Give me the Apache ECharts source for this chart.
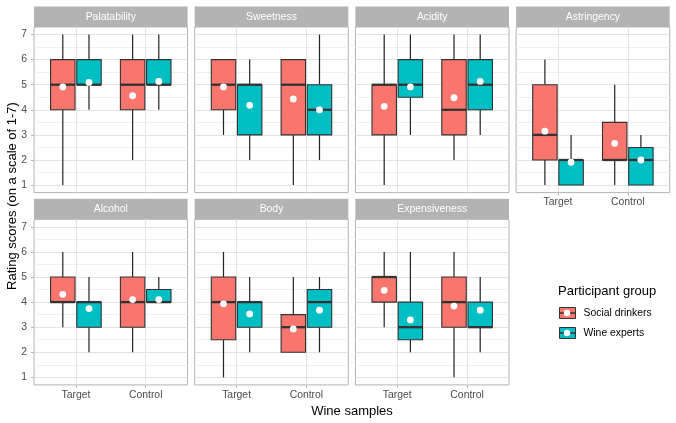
<!DOCTYPE html>
<html><head><meta charset="utf-8">
<script src="https://cdn.jsdelivr.net/npm/echarts@6/dist/echarts.min.js"></script>
<style>html,body{margin:0;padding:0;background:#fff}#c{width:676px;height:423px}</style>
</head><body><div id="c"></div>
<script>
const categories = ['Target', 'Control'];
const attributes = ['Palatability', 'Sweetness', 'Acidity', 'Astringency', 'Alcohol', 'Body', 'Expensiveness'];
const groups = ['Social drinkers', 'Wine experts'];
const yTicks = [1, 2, 3, 4, 5, 6, 7];
const yMinorTicks = [1.5, 2.5, 3.5, 4.5, 5.5, 6.5];
// [min, Q1, median, Q3, max] per attribute: [Target, Control]
const socialBoxes = [
  [[1, 4, 5, 6, 7], [2, 4, 5, 6, 7]],
  [[3, 4, 5, 6, 6], [1, 3, 5, 6, 6]],
  [[1, 3, 5, 5, 7], [2, 3, 4, 6, 7]],
  [[1, 2, 3, 5, 6], [1, 2, 2, 3.5, 5]],
  [[3, 4, 4, 5, 6], [2, 3, 4, 5, 6]],
  [[1, 2.5, 4, 5, 6], [2, 2, 3, 3.5, 5]],
  [[3, 4, 5, 5, 6], [1, 3, 4, 5, 6]]
];
const expertBoxes = [
  [[4, 5, 5, 6, 7], [4, 5, 5, 6, 7]],
  [[2, 3, 5, 5, 6], [2, 3, 4, 5, 7]],
  [[3, 4.5, 5, 6, 7], [3, 4, 5, 6, 7]],
  [[1, 1, 2, 2, 3], [1, 1, 2, 2.5, 3]],
  [[2, 3, 4, 4, 5], [4, 4, 4, 4.5, 5]],
  [[2, 3, 4, 4, 5], [2, 3, 4, 4.5, 5]],
  [[2, 2.5, 3, 4, 6], [2, 3, 3, 4, 5]]
];
// mean scores: [Target, Control]
const socialMeans = [[4.91, 4.56], [4.91, 4.43], [4.14, 4.48], [3.15, 2.66], [4.31, 4.1], [3.93, 2.93], [4.47, 3.84]];
const expertMeans = [[5.09, 5.13], [4.18, 4.0], [4.91, 5.13], [1.91, 2.0], [3.74, 4.1], [3.53, 3.68], [3.29, 3.68]];

const colors = ['#F8766D', '#00BFC4'];
const FONT = "'Liberation Sans', Arial, sans-serif";
const panelW = 153.6, colStep = 160.7, leftStart = 34;
const rowTops = [27, 219.3], panelH = 165.6, stripH = 20.5;

function renderBox(dodge, color) {
  return function (params, api) {
    const x = api.value(0) + dodge;
    const half = 0.175;
    const xl = api.coord([x - half, 1])[0];
    const xr = api.coord([x + half, 1])[0];
    const cx = api.coord([x, 1])[0];
    const y = i => api.coord([x, api.value(i)])[1];
    const yMin = y(1), yQ1 = y(2), yMed = y(3), yQ3 = y(4), yMax = y(5), yMean = y(6);
    const stroke = '#333333';
    return {
      type: 'group', children: [
        { type: 'line', shape: { x1: cx, y1: yQ3, x2: cx, y2: yMax }, style: { stroke: '#222', lineWidth: 1.2 } },
        { type: 'line', shape: { x1: cx, y1: yQ1, x2: cx, y2: yMin }, style: { stroke: '#222', lineWidth: 1.2 } },
        { type: 'rect', shape: { x: xl, y: yQ3, width: xr - xl, height: yQ1 - yQ3 }, style: { fill: color, stroke: stroke, lineWidth: 1.1 } },
        { type: 'line', shape: { x1: xl, y1: yMed, x2: xr, y2: yMed }, style: { stroke: stroke, lineWidth: 2.3 } },
        { type: 'circle', shape: { cx: cx, cy: yMean, r: 3.4 }, style: { fill: '#ffffff' } }
      ]
    };
  };
}

const grid = [], xAxis = [], yAxis = [], series = [], graphic = [];
attributes.forEach((name, p) => {
  const col = p % 4, row = Math.floor(p / 4);
  const left = leftStart + col * colStep, top = rowTops[row];
  const showY = col === 0;
  const showX = row === 1 || p === 3;
  grid.push({ left: left, top: top, width: panelW, height: panelH, show: true, borderColor: '#B3B3B3', borderWidth: 1, backgroundColor: '#fff' });
  xAxis.push({
    type: 'value', gridIndex: p, min: 0.4, max: 2.6, position: 'bottom',
    axisLine: { show: false },
    axisTick: { show: showX, customValues: [1, 2], length: 3, lineStyle: { color: '#B3B3B3' } },
    axisLabel: { show: showX, customValues: [1, 2], margin: 5, color: '#4D4D4D', fontSize: 10.4, fontFamily: FONT,
      formatter: v => categories[Math.round(v) - 1] },
    splitLine: { show: true, lineStyle: { color: '#E3E3E3', width: 1 } }
  });
  yAxis.push({
    type: 'value', gridIndex: p, min: 0.7, max: 7.3, position: 'left',
    axisLine: { show: false },
    axisTick: { show: false, customValues: yMinorTicks },
    axisLabel: { show: false, customValues: yMinorTicks },
    splitLine: { show: true, lineStyle: { color: '#F0F0F0', width: 1 } }
  });
  yAxis.push({
    type: 'value', gridIndex: p, min: 0.7, max: 7.3, position: 'left',
    axisLine: { show: false },
    axisTick: { show: showY, customValues: yTicks, length: 3, lineStyle: { color: '#B3B3B3' } },
    axisLabel: { show: showY, customValues: yTicks, margin: 7, color: '#4D4D4D', fontSize: 10.4, fontFamily: FONT },
    splitLine: { show: true, lineStyle: { color: '#E3E3E3', width: 1 } }
  });
  [socialBoxes, expertBoxes].forEach((boxes, g) => {
    const means = g === 0 ? socialMeans : expertMeans;
    series.push({
      type: 'custom', name: groups[g], xAxisIndex: p, yAxisIndex: 2 * p + 1,
      color: colors[g], clip: false,
      renderItem: renderBox(g === 0 ? -0.1875 : 0.1875, colors[g]),
      data: categories.map((c, k) => [k + 1].concat(boxes[p][k], [means[p][k]]))
    });
  });
  graphic.push({ type: 'rect', shape: { x: left, y: top - stripH, width: panelW, height: stripH }, style: { fill: '#B3B3B3' }, silent: true });
  graphic.push({ type: 'text', x: left + panelW / 2, y: top - stripH / 2, style: { text: name, fill: '#ffffff', fontSize: 10.4, fontFamily: FONT, align: 'center', verticalAlign: 'middle' }, silent: true });
});

graphic.push({ type: 'text', x: 12, y: 196, rotation: Math.PI / 2, style: { text: 'Rating scores (on a scale of 1-7)', fill: '#000', fontSize: 13, fontFamily: FONT, align: 'center', verticalAlign: 'middle' } });
graphic.push({ type: 'text', x: 352, y: 411, style: { text: 'Wine samples', fill: '#000', fontSize: 13, fontFamily: FONT, align: 'center', verticalAlign: 'middle' } });
graphic.push({ type: 'text', x: 558, y: 291, style: { text: 'Participant group', fill: '#000', fontSize: 13, fontFamily: FONT, align: 'left', verticalAlign: 'middle' } });
// legend key decoration (median line + mean dot)
const keyCentersY = [313, 333];
keyCentersY.forEach(cy => {
  graphic.push({ type: 'line', z: 200, shape: { x1: 559, y1: cy, x2: 575, y2: cy }, style: { stroke: '#333', lineWidth: 1.5 }, silent: true });
  graphic.push({ type: 'circle', z: 201, shape: { cx: 567, cy: cy, r: 3.2 }, style: { fill: '#fff' }, silent: true });
});

const chart = echarts.init(document.getElementById('c'), null, { renderer: 'canvas' });
chart.setOption({
  backgroundColor: '#ffffff',
  animation: false,
  grid, xAxis, yAxis, series, graphic,
  legend: {
    data: groups, orient: 'vertical', left: 554, top: 302, itemWidth: 16, itemHeight: 11, itemGap: 8,
    icon: 'rect', selectedMode: false,
    itemStyle: { borderColor: '#333333', borderWidth: 1 },
    textStyle: { fontSize: 10.4, color: '#000', fontFamily: FONT, padding: [0, 0, 0, 3] }
  }
});
</script></body></html>
